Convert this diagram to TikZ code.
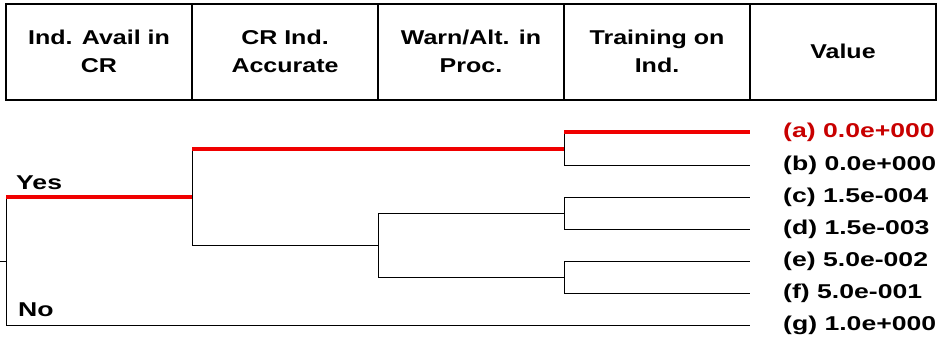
\documentclass[tikz,border=0pt]{standalone}
\usepackage{fontspec}
\setmainfont{Liberation Sans}[FakeStretch=1.25]
\newfontfamily\leaffont{Liberation Sans Bold}[FakeStretch=1.33]
\definecolor{tred}{RGB}{240,0,0}
\definecolor{lred}{RGB}{200,0,0}
\begin{document}
\begin{tikzpicture}[x=1pt,y=-1pt,
  thin line/.style={draw=black,line width=1pt},
  red line/.style={draw=tred,line width=3.5pt},
  hdr/.style={align=center,font=\fontsize{20}{28}\selectfont\bfseries,inner sep=0pt},
  leaf/.style={anchor=west,font=\fontsize{20}{24}\selectfont\leaffont,inner sep=0pt},
  lbl/.style={anchor=base west,font=\fontsize{20}{24}\selectfont\leaffont,inner sep=0pt}]
\useasboundingbox (0,0) rectangle (938,341);
% header table
\draw[line width=1.3pt] (6,4) rectangle (936,100);
\foreach \x in {192,378,564,750} \draw[line width=1.3pt] (\x,4) -- (\x,100);
\node[hdr] (h1) at (99,51) {Ind. Avail in\\CR};
\node[hdr] (h2) at (285,51) {CR Ind.\\Accurate};
\node[hdr] (h3) at (471,51) {Warn/Alt. in\\Proc.};
\node[hdr] (h4) at (657,51) {Training on\\Ind.};
\node[hdr] (h5) at (843,51) {Value};
% coordinates
\coordinate (stub) at (0,261);
\coordinate (root) at (6,261);
\coordinate (rY) at (6,197);
\coordinate (rN) at (6,325);
\coordinate (c1) at (192,197);
\coordinate (c1a) at (192,149);
\coordinate (c1b) at (192,245);
\coordinate (c2) at (378,245);
\coordinate (c2a) at (378,213);
\coordinate (c2b) at (378,277);
\coordinate (d1) at (564,149);
\coordinate (d1a) at (564,132);
\coordinate (d1b) at (564,165);
\coordinate (d2) at (564,213);
\coordinate (d2a) at (564,197);
\coordinate (d2b) at (564,229);
\coordinate (d3) at (564,277);
\coordinate (d3a) at (564,261);
\coordinate (d3b) at (564,293);
\coordinate (ea) at (750,132);
\coordinate (eb) at (750,165);
\coordinate (ec) at (750,197);
\coordinate (ed) at (750,229);
\coordinate (ee) at (750,261);
\coordinate (ef) at (750,293);
\coordinate (eg) at (750,325);
% black branches
\draw[thin line] (stub) -- (root);
\draw[thin line] (rY) -- (rN) -- (eg);
\draw[thin line] (c1a) -- (c1b) -- (c2);
\draw[thin line] (c2a) -- (c2b);
\draw[thin line] (c2a) -- (d2);
\draw[thin line] (c2b) -- (d3);
\draw[thin line] (d1a) -- (d1b) -- (eb);
\draw[thin line] (d2a) -- (d2b);
\draw[thin line] (d2a) -- (ec);
\draw[thin line] (d2b) -- (ed);
\draw[thin line] (d3a) -- (d3b);
\draw[thin line] (d3a) -- (ee);
\draw[thin line] (d3b) -- (ef);
% red path
\draw[red line] (rY) -- (c1);
\draw[red line] (c1a) -- (d1);
\draw[red line] (d1a) -- (ea);
% labels
\node[lbl] (yes) at (16,189) {Yes};
\node[lbl] (no) at (18,316) {No};
\node[leaf,text=lred] (la) at (783,132) {(a) 0.0e+000};
\node[leaf] (lb) at (783,165) {(b) 0.0e+000};
\node[leaf] (lc) at (783,197) {(c) 1.5e-004};
\node[leaf] (ld) at (783,229) {(d) 1.5e-003};
\node[leaf] (le) at (783,261) {(e) 5.0e-002};
\node[leaf] (lf) at (783,293) {(f) 5.0e-001};
\node[leaf] (lg) at (783,325) {(g) 1.0e+000};
\end{tikzpicture}
\end{document}
